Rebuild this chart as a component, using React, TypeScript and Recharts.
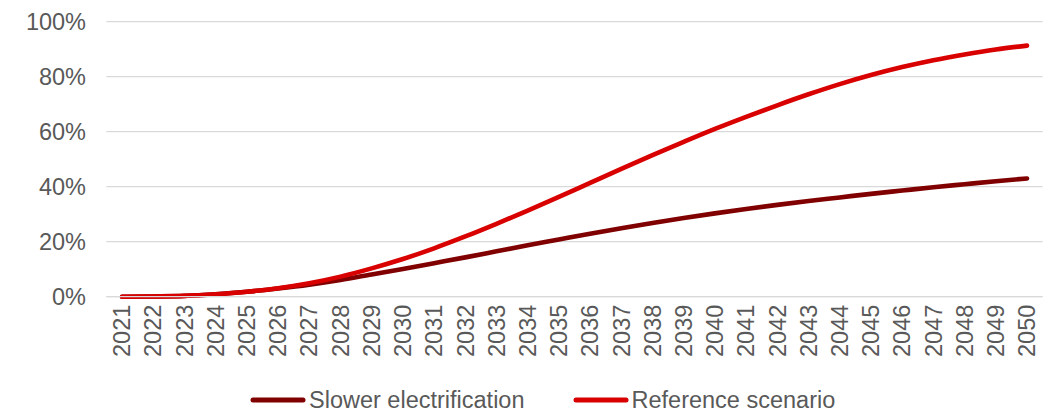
import React from 'react';
import { LineChart, Line, XAxis, YAxis, CartesianGrid, Legend } from 'recharts';

const YEARS = [
  2021, 2022, 2023, 2024, 2025, 2026, 2027, 2028, 2029, 2030,
  2031, 2032, 2033, 2034, 2035, 2036, 2037, 2038, 2039, 2040,
  2041, 2042, 2043, 2044, 2045, 2046, 2047, 2048, 2049, 2050,
];

const SLOWER = [
  0, 0.1, 0.3, 0.9, 1.8, 3.0, 4.4, 6.1, 8.1, 10.1,
  12.2, 14.3, 16.5, 18.7, 20.8, 22.9, 24.9, 26.8, 28.6, 30.3,
  31.9, 33.4, 34.8, 36.1, 37.4, 38.6, 39.8, 40.9, 42.0, 43.0,
];

const REFERENCE = [
  0, 0.1, 0.3, 0.9, 1.8, 3.1, 4.9, 7.3, 10.3, 13.7,
  17.6, 21.9, 26.5, 31.3, 36.3, 41.4, 46.5, 51.5, 56.3, 61.0,
  65.4, 69.6, 73.6, 77.3, 80.6, 83.5, 86.0, 88.1, 89.9, 91.3,
];

const Y_TICKS = [0, 20, 40, 60, 80, 100];

const SERIES = [
  { key: 'slower', name: 'Slower electrification', color: '#800000' },
  { key: 'reference', name: 'Reference scenario', color: '#D90000' },
];

const FONT = '"Liberation Sans", Arial, sans-serif';
const TEXT_COLOR = '#595959';
const FONT_SIZE = 23.5;

const data = YEARS.map((year, i) => ({
  year: String(year),
  slower: SLOWER[i],
  reference: REFERENCE[i],
}));

const YearTick = ({ x, y, payload }: any) => (
  <g transform={`translate(${x},${y})`}>
    <text
      transform="rotate(-90)"
      textAnchor="end"
      dy="0.35em"
      fill={TEXT_COLOR}
      fontFamily={FONT}
      fontSize={FONT_SIZE}
    >
      {payload.value}
    </text>
  </g>
);

const LegendContent = () => (
  <div style={{ height: 0, overflow: 'visible', position: 'relative' }}>
    <div
      style={{
        position: 'absolute',
        left: 250,
        top: 0,
        display: 'flex',
        alignItems: 'center',
        whiteSpace: 'nowrap',
        fontFamily: FONT,
        fontSize: FONT_SIZE,
        color: TEXT_COLOR,
        lineHeight: '28px',
      }}
    >
      {SERIES.map((s, i) => (
        <div key={s.key} style={{ display: 'flex', alignItems: 'center', marginRight: i === 0 ? 48 : 0 }}>
          <svg width={56} height={8} style={{ marginRight: 3 }}>
            <line x1={3} y1={4} x2={53} y2={4} stroke={s.color} strokeWidth={5} strokeLinecap="round" />
          </svg>
          <span>{s.name}</span>
        </div>
      ))}
    </div>
  </div>
);

export default function App() {
  return (
    <div style={{ position: 'absolute', left: 0, top: 0, width: 1048, height: 411, background: '#fff' }}>
      <LineChart
        width={1048}
        height={411}
        data={data}
        margin={{ top: 21.7, right: 5.4, bottom: 54.3, left: 10.4 }}
      >
        <CartesianGrid vertical={false} stroke="#d9d9d9" strokeWidth={1.3} />
        <XAxis
          dataKey="year"
          interval={0}
          height={60}
          padding={{ left: 15.6, right: 15.6 }}
          tickSize={0}
          tickMargin={8}
          axisLine={{ stroke: '#d9d9d9', strokeWidth: 1.3 }}
          tickLine={false}
          tick={<YearTick />}
        />
        <YAxis
          width={96}
          domain={[0, 100]}
          ticks={Y_TICKS}
          tickFormatter={(v: number) => `${v}%`}
          axisLine={false}
          tickLine={false}
          tickSize={0}
          tickMargin={20.4}
          tick={{ fill: TEXT_COLOR, fontFamily: FONT, fontSize: FONT_SIZE }}
        />
        <Legend
          verticalAlign="bottom"
          content={<LegendContent />}
          wrapperStyle={{ position: 'absolute', left: 0, top: 386, width: 1048, height: 0 }}
        />
        {SERIES.map((s) => (
          <Line
            key={s.key}
            type="monotone"
            dataKey={s.key}
            name={s.name}
            stroke={s.color}
            strokeWidth={4.6}
            strokeLinecap="round"
            dot={false}
            activeDot={false}
            isAnimationActive={false}
          />
        ))}
      </LineChart>
    </div>
  );
}
